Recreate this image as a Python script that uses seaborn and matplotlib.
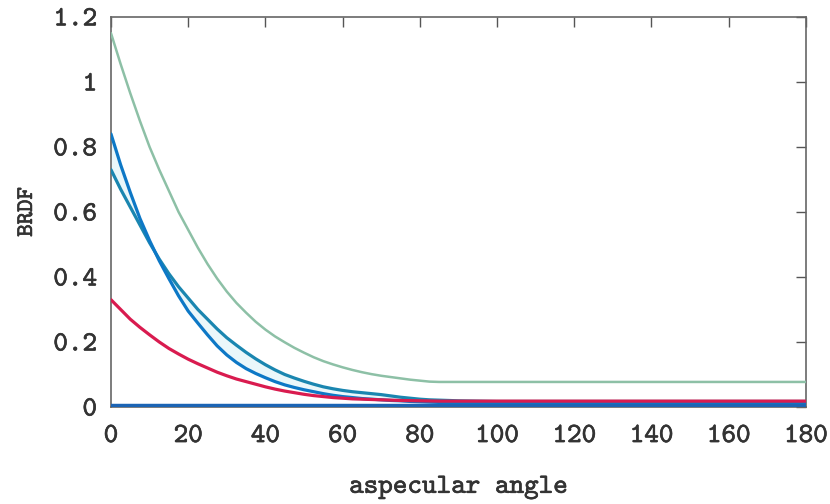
import numpy as np
import pandas as pd
import matplotlib
matplotlib.use("Agg")
import matplotlib.pyplot as plt
import matplotlib.patheffects as pe
import seaborn as sns

# Sampled BRDF curves against aspecular angle (degrees)
angle = [0, 2.5, 5, 7.5, 10, 12.5, 15, 17.5, 20, 22.5, 25, 27.5, 30, 32.5, 35, 37.5,
         40, 42.5, 45, 47.5, 50, 52.5, 55, 57.5, 60, 62.5, 65, 67.5, 70, 72.5, 75, 77.5,
         80, 82.5, 85, 87.5, 90, 100, 120, 140, 160, 180]
brdf_green = [1.15, 1.055, 0.965, 0.88, 0.80, 0.73, 0.665, 0.60, 0.545, 0.49, 0.44, 0.395,
              0.355, 0.32, 0.29, 0.262, 0.238, 0.217, 0.199, 0.182, 0.167, 0.153, 0.141,
              0.131, 0.122, 0.114, 0.107, 0.101, 0.096, 0.092, 0.088, 0.084, 0.081, 0.078,
              0.077, 0.077, 0.077, 0.077, 0.077, 0.077, 0.077, 0.077]
brdf_teal = [0.73, 0.67, 0.615, 0.56, 0.505, 0.455, 0.41, 0.37, 0.335, 0.30, 0.27, 0.24,
             0.213, 0.19, 0.168, 0.148, 0.13, 0.114, 0.10, 0.089, 0.079, 0.07, 0.062, 0.056,
             0.051, 0.047, 0.044, 0.041, 0.038, 0.034, 0.030, 0.027, 0.024, 0.022, 0.021,
             0.020, 0.019, 0.017, 0.017, 0.017, 0.017, 0.017]
brdf_blue = [0.84, 0.745, 0.66, 0.58, 0.512, 0.45, 0.395, 0.342, 0.295, 0.258, 0.222, 0.188,
             0.16, 0.137, 0.118, 0.103, 0.09, 0.078, 0.068, 0.06, 0.053, 0.047, 0.041, 0.036,
             0.032, 0.029, 0.026, 0.024, 0.022, 0.020, 0.019, 0.017, 0.016, 0.015, 0.014,
             0.013, 0.013, 0.012, 0.012, 0.012, 0.012, 0.012]
brdf_red = [0.33, 0.30, 0.27, 0.245, 0.222, 0.20, 0.18, 0.163, 0.147, 0.133, 0.12, 0.107,
            0.096, 0.086, 0.078, 0.07, 0.062, 0.055, 0.049, 0.044, 0.039, 0.035, 0.032, 0.029,
            0.027, 0.025, 0.024, 0.023, 0.022, 0.021, 0.020, 0.0195, 0.019, 0.0185, 0.018,
            0.018, 0.018, 0.018, 0.018, 0.018, 0.018, 0.018]
brdf_base = [0.004] * len(angle)

x_ticks = [0, 20, 40, 60, 80, 100, 120, 140, 160, 180]
y_ticks = [0, 0.2, 0.4, 0.6, 0.8, 1.0, 1.2]
y_tick_labels = ["0", "0.2", "0.4", "0.6", "0.8", "1", "1.2"]

series = {
    "green": brdf_green,
    "teal": brdf_teal,
    "blue": brdf_blue,
    "red": brdf_red,
    "base": brdf_base,
}
palette = {
    "green": "#8dc0a6",
    "teal": "#1a86b0",
    "blue": "#0d78c6",
    "red": "#d91b4f",
    "base": "#1c64b4",
}
widths = {"green": 1.8, "teal": 2.3, "blue": 2.3, "red": 2.3, "base": 3.2}

df = pd.concat(
    [pd.DataFrame({"angle": angle, "brdf": v, "curve": k}) for k, v in series.items()],
    ignore_index=True,
)

sns.set_style("white")
plt.rcParams["font.family"] = ["cmtt10", "DejaVu Sans Mono"]
plt.rcParams["axes.unicode_minus"] = False

fig = plt.figure(figsize=(8.3, 5.04), dpi=100)
ax = fig.add_axes([0.1337, 0.1925, 0.8373, 0.774])

# soft light band between the two blue curves
ax.fill_between(angle, brdf_blue, brdf_teal, color="#eaf7fa", lw=0, zorder=1)

for name in series:
    sns.lineplot(data=df[df["curve"] == name], x="angle", y="brdf", color=palette[name],
                 lw=widths[name], ax=ax, legend=False, zorder=3)

ax.set_xlim(0, 180)
ax.set_ylim(0, 1.2)
ax.set_xticks(x_ticks)
ax.set_yticks(y_ticks)
ax.set_yticklabels(y_tick_labels)

stroke = [pe.withStroke(linewidth=0.45, foreground="#333333")]
ax.tick_params(axis="both", which="major", direction="in", length=7, width=1.0,
               color="#555555", labelsize=20, labelcolor="#333333",
               top=True, right=True)
ax.tick_params(axis="x", pad=13)
ax.tick_params(axis="y", pad=10)
for lab in ax.get_xticklabels() + ax.get_yticklabels():
    lab.set_path_effects(stroke)

for s in ax.spines.values():
    s.set_color("#666666")
    s.set_linewidth(1.2)

ax.set_xlabel("aspecular angle", fontsize=20, color="#333333", labelpad=20,
              path_effects=stroke)
ax.set_ylabel("BRDF", fontsize=17, color="#333333", labelpad=11,
              path_effects=stroke)

fig.savefig("out.png", dpi=100)
